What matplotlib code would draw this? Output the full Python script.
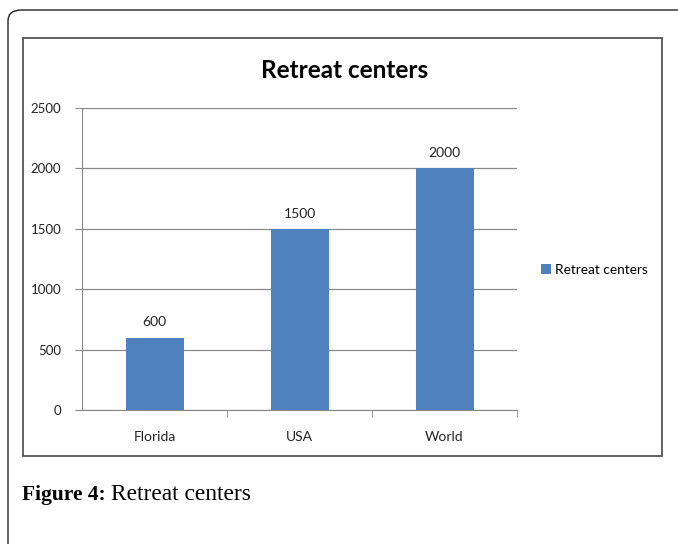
import matplotlib
matplotlib.use("Agg")
import matplotlib.pyplot as plt
from matplotlib.patches import FancyBboxPatch, Rectangle

categories = ["Florida", "USA", "World"]
values = [600, 1500, 2000]
series_name = "Retreat centers"
yticks = [0, 500, 1000, 1500, 2000, 2500]

W, H = 678, 544
fig = plt.figure(figsize=(W / 100, H / 100), dpi=100)

sans = ["Lato", "DejaVu Sans"]
serif = ["Liberation Serif", "DejaVu Serif"]

# outer rounded page box (runs off right and bottom edge)
fig.patches.append(FancyBboxPatch((8 / W, -0.2), 1.2, 1 - 10 / H + 0.2,
                                  boxstyle="round,pad=0,rounding_size=0.02",
                                  transform=fig.transFigure, fill=False,
                                  edgecolor="#222222", lw=1.0))
# chart frame
fig.patches.append(Rectangle((23 / W, 1 - 456 / H), 639 / W, 418 / H,
                             transform=fig.transFigure, fill=False,
                             edgecolor="#555555", lw=1.3))

ax = fig.add_axes([82 / W, 1 - 410 / H, 435 / W, 302 / H])
x = range(len(categories))
bars = ax.bar(x, values, width=0.4, color="#4f81bd", label=series_name, zorder=3)
for b, v in zip(bars, values):
    ax.text(b.get_x() + b.get_width() / 2, v + 75, str(v), ha="center",
            va="bottom", fontsize=10, family=sans, color="#222222")

ax.set_xlim(-0.5, 2.5)
ax.set_ylim(0, 2500)
ax.set_yticks(yticks)
ax.set_yticklabels([str(t) for t in yticks], family=sans, fontsize=9.5, color="#222222")
ax.set_xticks(list(x))
ax.set_xticklabels(categories, family=sans, fontsize=10, color="#222222")
ax.set_xticks([0.5, 1.5, 2.5], minor=True)
ax.tick_params(axis="x", which="major", length=0, pad=15)
ax.tick_params(axis="x", which="minor", length=5, color="#888888", direction="out")
ax.tick_params(axis="y", length=5, color="#888888", direction="out", pad=10)
ax.grid(axis="y", color="#888888", lw=0.9, zorder=0)
for s in ["top", "right"]:
    ax.spines[s].set_visible(False)
ax.spines["left"].set_color("#888888")
ax.spines["bottom"].set_color("#888888")

fig.text(345 / W, 1 - 70 / H, "Retreat centers", ha="center", va="center",
         fontsize=17.5, fontweight="bold", family=sans)

ax.legend(loc="center left", bbox_to_anchor=(529 / W, 1 - 270 / H),
          bbox_transform=fig.transFigure, frameon=False, handlelength=0.7,
          handleheight=0.7, handletextpad=0.3, prop={"family": sans, "size": 9.8})

cap = fig.text(22 / W, 1 - 495 / H, "Figure 4:", ha="left", va="center",
               fontsize=15.5, fontweight="bold", family=serif)
fig.canvas.draw()
bb = cap.get_window_extent()
fig.text((bb.x1 + 5) / W, 1 - 495 / H, "Retreat centers", ha="left", va="center",
         fontsize=16.8, family=serif)

fig.savefig("out.png", dpi=100)
